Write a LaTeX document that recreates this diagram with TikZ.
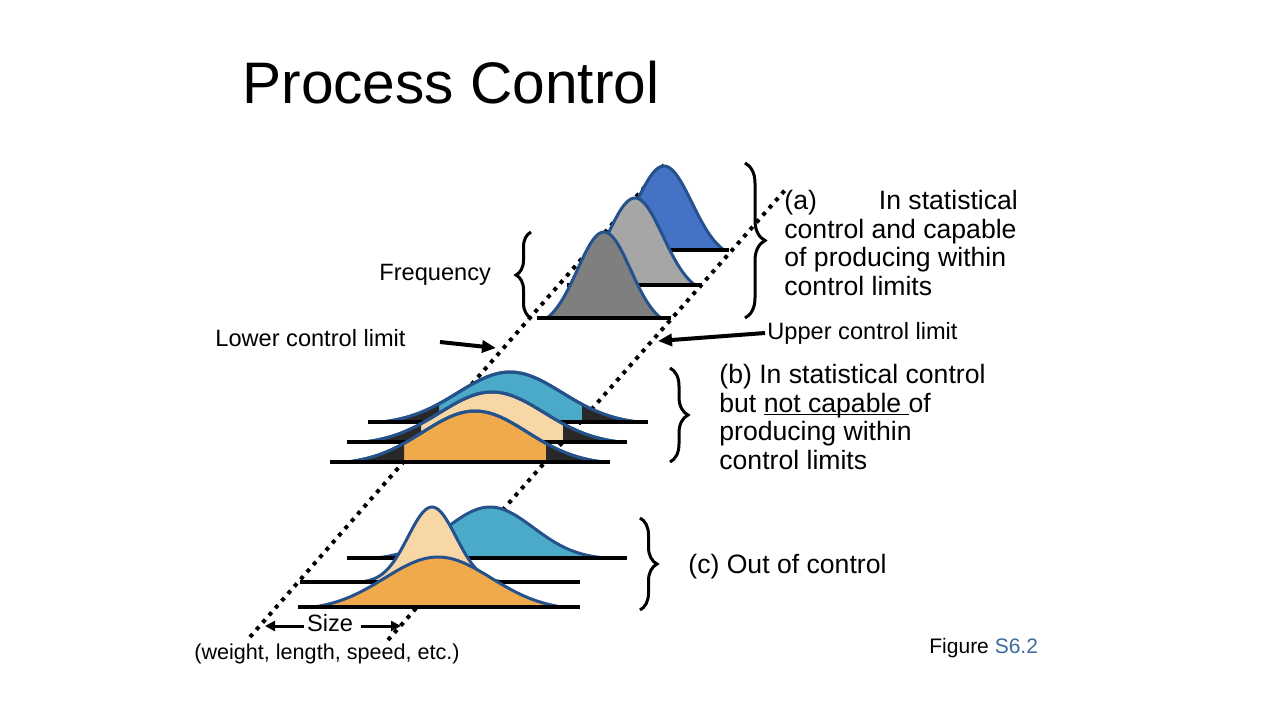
\documentclass[tikz,border=0pt]{standalone}
\usepackage{fontspec}
\setmainfont{Liberation Sans}
\usetikzlibrary{arrows.meta,decorations.pathreplacing}
\definecolor{curveblue}{RGB}{68,114,196}
\definecolor{curvegray}{RGB}{166,166,166}
\definecolor{curvedark}{RGB}{127,127,127}
\definecolor{edgeblue}{RGB}{38,82,140}
\definecolor{curveteal}{RGB}{75,170,199}
\definecolor{curvetan}{RGB}{248,215,167}
\definecolor{curveorange}{RGB}{240,170,76}
\definecolor{tailblack}{RGB}{40,40,40}
\definecolor{figblue}{RGB}{60,108,160}

% bell shape: \bellk sets how peaked it is
\newcommand{\bellk}{3}
% centre, baseline, half width, height, colour
\newcommand{\bell}[5]{%
  \pgfmathsetmacro\bellL{#1-#3}\pgfmathsetmacro\bellR{#1+#3}
  \fill[#5] (\bellL,#2) -- plot[domain=\bellL:\bellR, samples=80] (\x,{#2-#4*(exp(-\bellk*((\x-#1)/#3)^2)-exp(-\bellk))/(1-exp(-\bellk))}) -- cycle;
  \draw[curveedge] plot[domain=\bellL:\bellR, samples=80] (\x,{#2-#4*(exp(-\bellk*((\x-#1)/#3)^2)-exp(-\bellk))/(1-exp(-\bellk))});}
% centre, baseline, half width, height, inner from, inner to
\newcommand{\belltails}[6]{%
  \pgfmathsetmacro\bellL{#1-#3}\pgfmathsetmacro\bellR{#1+#3}
  \fill[tailblack] (\bellL,#2) -- plot[domain=\bellL:#5, samples=40] (\x,{#2-#4*(exp(-\bellk*((\x-#1)/#3)^2)-exp(-\bellk))/(1-exp(-\bellk))}) -- (#5,#2) -- cycle;
  \fill[tailblack] (#6,#2) -- plot[domain=#6:\bellR, samples=40] (\x,{#2-#4*(exp(-\bellk*((\x-#1)/#3)^2)-exp(-\bellk))/(1-exp(-\bellk))}) -- cycle;
  \draw[curveedge] plot[domain=\bellL:\bellR, samples=80] (\x,{#2-#4*(exp(-\bellk*((\x-#1)/#3)^2)-exp(-\bellk))/(1-exp(-\bellk))});}
\newcommand{\ulnote}[1]{\setbox0\hbox{#1}\rlap{\rule[-1.4pt]{\wd0}{0.7pt}}#1}

\begin{document}
\begin{tikzpicture}[x=0.5pt, y=-0.5pt,
  every node/.style={inner sep=0pt},
  curveedge/.style={draw=edgeblue, line width=1.5pt},
  baseln/.style={line width=2pt},
  limitline/.style={line width=2pt, dash pattern=on 2pt off 2.8pt},
  limitarrow/.style={line width=2pt, -{Triangle[length=7pt,width=6pt]}},
  sizearrow/.style={line width=1.5pt, -{Triangle[length=5pt,width=5pt]}},
  bracket/.style={line width=1.5pt, decorate, decoration={brace, amplitude=#1}},
  smalltext/.style={font=\fontsize{11.8}{14}\selectfont},
  note/.style={font=\fontsize{13.3}{14.25}\selectfont, align=left}]
\useasboundingbox[fill=white] (0,0) rectangle (1280,720);

% control limits
\coordinate (lowA) at (250,637);
\coordinate (lowB) at (664,165);
\coordinate (upA) at (388,640);
\coordinate (upB) at (786,189);
\draw[limitline] (lowA) -- (lowB);
\draw[limitline] (upA) -- (upB);

% (a) in control and capable
\renewcommand{\bellk}{2.3}
\bell{664}{250}{60}{84}{curveblue}
\draw[baseln] (600,250) -- (729,250);
\bell{635}{285}{60}{87}{curvegray}
\draw[baseln] (567,285) -- (702,285);
\bell{604}{318}{57}{86}{curvedark}
\draw[baseln] (537,318) -- (671,318);

% (b) in control, not capable
\renewcommand{\bellk}{3}
\bell{510}{422}{128}{50}{curveteal}
\belltails{510}{422}{128}{50}{439}{582}
\draw[baseln] (368,422) -- (648,422);
\bell{492}{442}{128}{50}{curvetan}
\belltails{492}{442}{128}{50}{421}{563}
\draw[baseln] (347,442) -- (627,442);
\bell{475}{462}{128}{51}{curveorange}
\belltails{475}{462}{128}{51}{404}{546}
\draw[baseln] (330,462) -- (610,462);

% (c) out of control
\renewcommand{\bellk}{3.5}
\bell{490}{558}{115}{51}{curveteal}
\draw[baseln] (347,558) -- (627,558);
\renewcommand{\bellk}{4.5}
\bell{432}{582}{72}{75}{curvetan}
\draw[baseln] (300,582) -- (580,582);
\renewcommand{\bellk}{2.7}
\bell{438}{607}{124}{50}{curveorange}
\draw[baseln] (298,607) -- (580,607);

% labels
\node[anchor=base west, font=\fontsize{29.3}{35}\selectfont] (title) at (242,103) {Process Control};
\node[smalltext, anchor=base west] (freq) at (379,280) {Frequency};
\node[smalltext, anchor=base west] (lcl) at (215,346) {Lower control limit};
\node[smalltext, anchor=base west] (ucl) at (767,339) {Upper control limit};
\node[smalltext, anchor=base] (size) at (330,631) {Size};
\node[anchor=base, font=\fontsize{10.8}{13}\selectfont] (units) at (327,659) {(weight, length, speed, etc.)};
\node[anchor=base west, font=\fontsize{10.5}{12}\selectfont] (fig) at (929,653) {Figure \textcolor{figblue}{S6.2}};

\node[note, anchor=north west] (notea) at (784,190) {(a)\hspace{31pt}In statistical\\control and capable\\of producing within\\control limits};
\node[note, anchor=north west] (noteb) at (719,364) {(b) In statistical control\\but \ulnote{not capable\ }of\\producing within\\control limits};
\node[note, anchor=base west] (notec) at (688,573) {(c) Out of control};

% arrows
\coordinate (lclhead) at (496,348);
\coordinate (uclhead) at (658,341);
\coordinate (sizeL) at (265,626);
\coordinate (sizeR) at (401,626);
\draw[limitarrow] (440,342) -- (lclhead);
\draw[limitarrow] (765,333) -- (uclhead);
\draw[sizearrow, shorten <=1.5pt] (size.west |- sizeL) -- (sizeL);
\draw[sizearrow, shorten <=4pt] (size.east |- sizeR) -- (sizeR);

% braces
\draw[bracket=10pt] (745,163) -- (745,318);
\draw[bracket=7.5pt] (531,318) -- (531,232);
\draw[bracket=9pt] (670,368) -- (670,462);
\draw[bracket=8.5pt] (640,518) -- (640,610);
\end{tikzpicture}
\end{document}
